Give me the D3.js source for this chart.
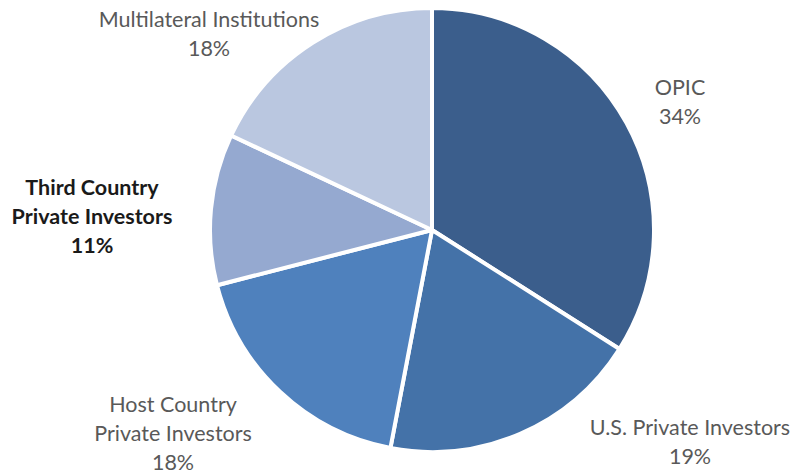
<!DOCTYPE html>
<html>
<head>
<meta charset="utf-8">
<script src="https://cdn.jsdelivr.net/npm/d3@7"></script>
<style>
  body { margin: 0; background: #fff; }
  svg text { font-family: Lato, 'Open Sans', sans-serif; font-size: 21.5px; }
</style>
</head>
<body>
<svg id="chart" width="796" height="474"></svg>
<script>
// data
const categories = ['OPIC', 'U.S. Private Investors', 'Host Country Private Investors', 'Third Country Private Investors', 'Multilateral Institutions'];
const shares = [34, 19, 18, 11, 18];
const colors = ['#3b5e8c', '#4472a8', '#4f81bd', '#95a9d0', '#bac7e0'];

// label lines and where they sit
const labelLines = [
  ['OPIC', '34%'],
  ['U.S. Private Investors', '19%'],
  ['Host Country', 'Private Investors', '18%'],
  ['Third Country', 'Private Investors', '11%'],
  ['Multilateral Institutions', '18%']
];
const labelPos = [[680, 95], [690, 435], [173, 412], [92, 195], [209, 27]];
const labelColor = ['#595959', '#595959', '#595959', '#1a1a1a', '#595959'];
const labelWeight = ['normal', 'normal', 'normal', 'bold', 'normal'];

const cx = 432, cy = 230, r = 222;

const svg = d3.select('#chart');
const g = svg.append('g').attr('transform', `translate(${cx},${cy})`);

const pie = d3.pie().sort(null).value((d) => d);
const arc = d3.arc().innerRadius(0).outerRadius(r);

g.selectAll('path')
  .data(pie(shares))
  .join('path')
  .attr('d', arc)
  .attr('fill', (d, i) => colors[i])
  .attr('stroke', '#fff')
  .attr('stroke-width', 4)
  .attr('stroke-linejoin', 'round');

// labels
categories.forEach((c, i) => {
  const t = svg.append('text')
    .attr('text-anchor', 'middle')
    .attr('fill', labelColor[i])
    .attr('font-weight', labelWeight[i]);
  labelLines[i].forEach((line, j) => {
    t.append('tspan')
      .attr('x', labelPos[i][0])
      .attr('y', labelPos[i][1] + j * 29)
      .text(line);
  });
});
</script>
</body>
</html>
